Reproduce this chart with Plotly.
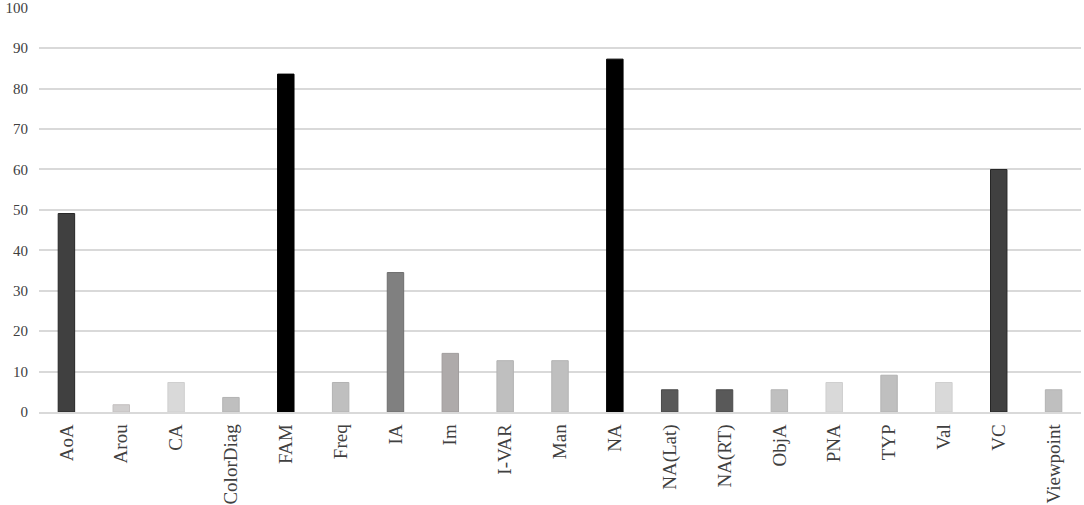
import plotly.graph_objects as go

categories = ["AoA", "Arou", "CA", "ColorDiag", "FAM", "Freq", "IA", "Im", "I-VAR", "Man",
              "NA", "NA(Lat)", "NA(RT)", "ObjA", "PNA", "TYP", "Val", "VC", "Viewpoint"]
values = [49.1, 1.8, 7.3, 3.6, 83.6, 7.3, 34.5, 14.5, 12.7, 12.7,
          87.3, 5.5, 5.5, 5.5, 7.3, 9.1, 7.3, 60.0, 5.5]
fill_colors = ["#404040", "#d0cece", "#d9d9d9", "#bfbfbf", "#000000", "#bfbfbf", "#808080", "#aeaaaa",
               "#bfbfbf", "#bfbfbf", "#000000", "#595959", "#595959", "#bfbfbf", "#d9d9d9", "#bfbfbf",
               "#d9d9d9", "#404040", "#bfbfbf"]
line_colors = ["#262626", "#c4c0c0", "#cfcfcf", "#b3b3b3", "#000000", "#b3b3b3", "#6e6e6e", "#a09c9c",
               "#b3b3b3", "#b3b3b3", "#000000", "#4a4a4a", "#4a4a4a", "#b3b3b3", "#cfcfcf", "#b3b3b3",
               "#cfcfcf", "#262626", "#b3b3b3"]
y_ticks = [0, 10, 20, 30, 40, 50, 60, 70, 80, 90, 100]

fig = go.Figure(go.Bar(
    x=categories, y=values,
    marker=dict(color=fill_colors, line=dict(color=line_colors, width=1)),
    width=0.3,
))

font = "Liberation Serif, Times New Roman, serif"
fig.update_layout(
    width=1084, height=505,
    margin=dict(l=39, r=3, t=7, b=93),
    paper_bgcolor="white", plot_bgcolor="white",
    showlegend=False,
    font=dict(family=font, color="#404040"),
)
fig.update_xaxes(
    tickangle=-90, tickfont=dict(size=19, family=font, color="#404040"),
    showgrid=False, showline=True, linecolor="#d9d9d9", linewidth=1.5,
    ticks="", range=[-0.5, 18.5], automargin=False, ticklabelstandoff=3,
)
fig.update_yaxes(
    range=[0, 100.2], tickvals=y_ticks, tickfont=dict(size=15, family=font, color="#404040"),
    showgrid=True, gridcolor="#d9d9d9", gridwidth=1.5, zeroline=False,
    showline=False, ticks="", ticklabelstandoff=10, automargin=False,
)

fig.write_html("out.html", config={"displayModeBar": False},
               post_script="document.body.style.margin='0';document.body.style.overflow='hidden';")
